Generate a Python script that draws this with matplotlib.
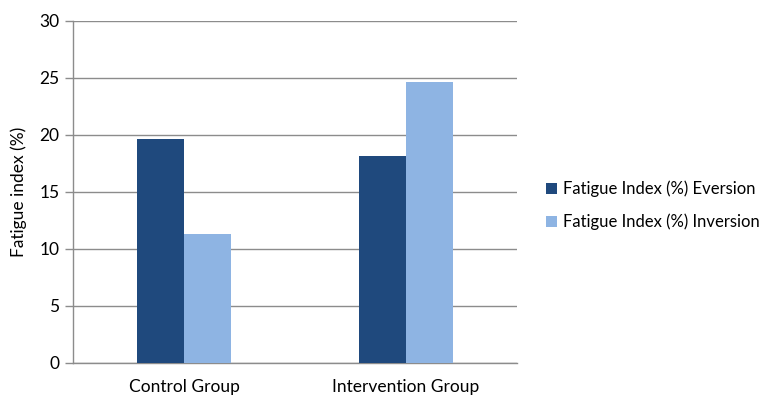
import matplotlib

matplotlib.use("Agg")
import matplotlib.pyplot as plt
import numpy as np

# Fatigue index per group, eversion vs inversion
groups = ["Control Group", "Intervention Group"]
eversion = [19.6, 18.1]
inversion = [11.3, 24.6]
series_labels = ["Fatigue Index (%) Eversion", "Fatigue Index (%) Inversion"]
y_ticks = [0, 5, 10, 15, 20, 25, 30]

DARK = "#1f497d"
LIGHT = "#8eb4e3"
GRID = "#8c8c8c"
FS = 12.5

plt.rcParams["font.family"] = ["Lato", "DejaVu Sans"]

fig = plt.figure(figsize=(7.71, 3.96), dpi=100)
ax = fig.add_axes([0.0951, 0.0841, 0.5749, 0.8636])

x = np.arange(len(groups))
width = 0.212
ax.bar(x - width / 2, eversion, width, color=DARK, label=series_labels[0], zorder=3)
ax.bar(x + width / 2, inversion, width, color=LIGHT, label=series_labels[1], zorder=3)

ax.set_xlim(-0.5, len(groups) - 0.5)
ax.set_ylim(0, 30)
ax.set_yticks(y_ticks)
ax.set_xticks(x)
ax.set_xticklabels(groups, fontsize=FS)
ax.tick_params(axis="x", length=0, pad=12)
ax.tick_params(axis="y", length=6, width=1, color=GRID, labelsize=FS, pad=4)
ax.yaxis.grid(True, color=GRID, linewidth=1)
ax.set_axisbelow(True)

for side in ("top", "right"):
    ax.spines[side].set_visible(False)
for side in ("left", "bottom"):
    ax.spines[side].set_color(GRID)
    ax.spines[side].set_linewidth(1)

ax.set_ylabel("Fatigue index (%)", fontsize=FS, labelpad=9)

ax.legend(
    loc="center left",
    bbox_to_anchor=(1.04, 0.46),
    frameon=False,
    fontsize=12,
    handlelength=0.65,
    handleheight=0.65,
    handletextpad=0.35,
    labelspacing=1.0,
    borderpad=0.2,
)

fig.savefig("out.png", dpi=100)
